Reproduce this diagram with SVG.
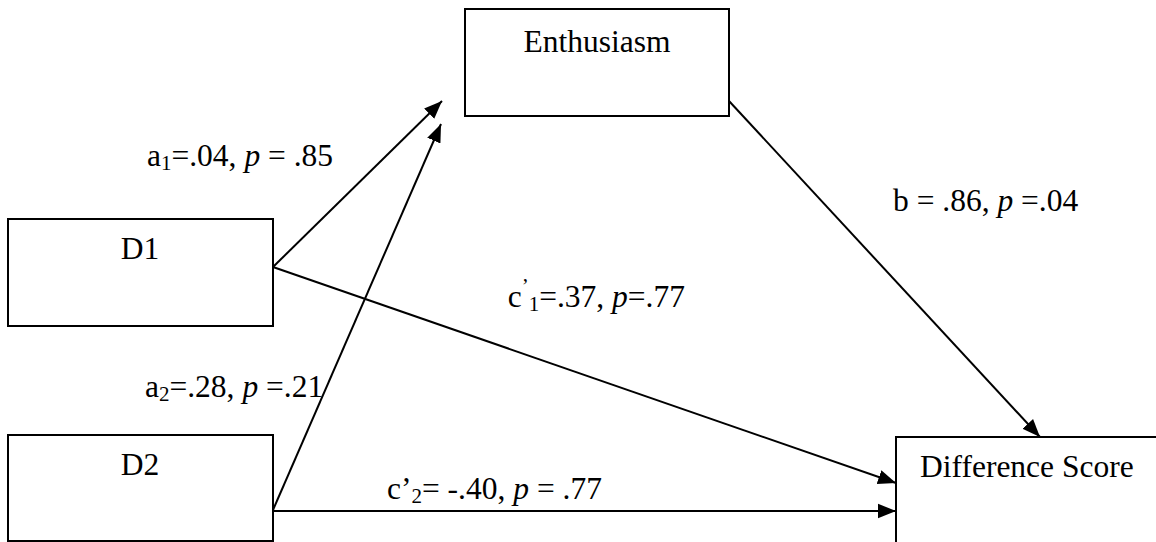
<svg xmlns="http://www.w3.org/2000/svg" width="1156" height="542" viewBox="0 0 1156 542">
<defs>
<style>
.box{fill:#fff;stroke:#000;stroke-width:2}
.t{font-family:"Liberation Serif","Times New Roman",serif;font-size:31.5px;fill:#000}
.c{stroke:#000;stroke-width:2;fill:none}
.i{font-style:italic}
.sub{font-size:21px}
</style>
<marker id="ah" viewBox="0 0 10 10" refX="10" refY="5" markerWidth="9" markerHeight="9" markerUnits="strokeWidth" orient="auto">
<path d="M0,1 L10,5 L0,9 Z" fill="#000"/>
</marker>
</defs>
<rect width="1156" height="542" fill="#fff"/>
<g id="connectors">
<line class="c" x1="273" y1="267" x2="442" y2="101" marker-end="url(#ah)"/>
<line class="c" x1="273" y1="510" x2="441" y2="124" marker-end="url(#ah)"/>
<line class="c" x1="273" y1="267" x2="896" y2="483" marker-end="url(#ah)"/>
<line class="c" x1="273" y1="511" x2="896" y2="511" marker-end="url(#ah)"/>
<line class="c" x1="729" y1="101" x2="1040" y2="437" marker-end="url(#ah)"/>
</g>
<g id="node-enthusiasm">
<rect class="box" x="465" y="9" width="264" height="107"/>
<text class="t" x="597" y="52" text-anchor="middle">Enthusiasm</text>
</g>
<g id="node-d1">
<rect class="box" x="8" y="219" width="265" height="107"/>
<text class="t" x="140" y="259" text-anchor="middle">D1</text>
</g>
<g id="node-d2">
<rect class="box" x="8" y="435" width="265" height="106"/>
<text class="t" x="140" y="475" text-anchor="middle">D2</text>
</g>
<g id="node-difference">
<rect class="box" x="896" y="437" width="270" height="120"/>
<text class="t" x="920" y="477">Difference Score</text>
</g>
<g id="labels">
<text class="t" x="147" y="166">a<tspan class="sub" dy="4">1</tspan><tspan dy="-4">=.04, </tspan><tspan class="i">p</tspan> = .85</text>
<text class="t" x="145" y="397">a<tspan class="sub" dy="4">2</tspan><tspan dy="-4">=.28, </tspan><tspan class="i">p</tspan> =.21</text>
<text class="t" x="893" y="211">b = .86, <tspan class="i">p</tspan> =.04</text>
<text class="t" x="685" y="307" text-anchor="end">c<tspan class="sub" dy="-14">’</tspan><tspan class="sub" dy="18">1</tspan><tspan dy="-4">=.37, </tspan><tspan class="i">p</tspan>=.77</text>
<text class="t" x="387" y="499">c’<tspan class="sub" dy="4">2</tspan><tspan dy="-4">= -.40, </tspan><tspan class="i">p</tspan> = .77</text>
</g>
</svg>
